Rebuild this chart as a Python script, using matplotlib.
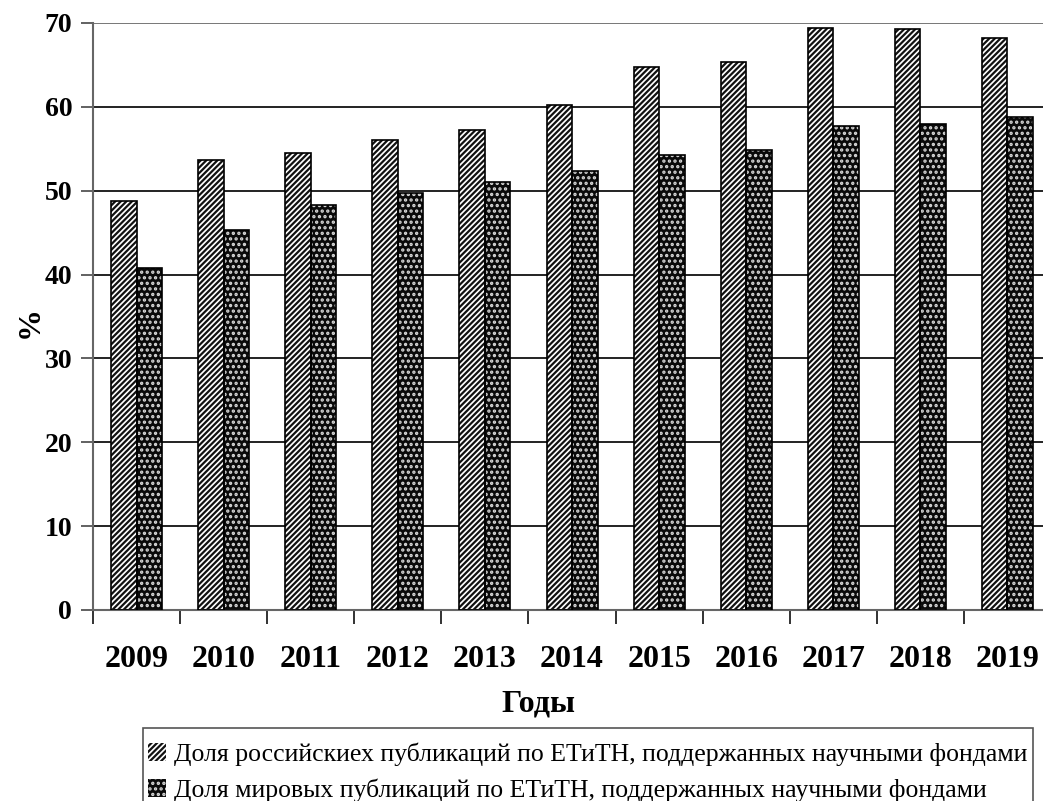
import matplotlib
matplotlib.use("Agg")
import matplotlib.pyplot as plt
from matplotlib.patches import Rectangle
import numpy as np

plt.rcParams['font.family'] = ['Liberation Serif', 'DejaVu Serif']
plt.rcParams['hatch.linewidth'] = 1.6

years = ['2009', '2010', '2011', '2012', '2013', '2014', '2015', '2016', '2017', '2018', '2019']
rus = [48.8, 53.7, 54.5, 56.1, 57.2, 60.2, 64.8, 65.4, 69.4, 69.3, 68.2]
world = [40.8, 45.3, 48.3, 49.7, 51.0, 52.4, 54.2, 54.8, 57.7, 57.9, 58.8]
lbl_rus = 'Доля российскиех публикаций по ЕТиТН, поддержанных научными фондами'
lbl_world = 'Доля мировых публикаций по ЕТиТН, поддержанных научными фондами'

fig = plt.figure(figsize=(10.43, 8.01), dpi=100)
ax = fig.add_axes([0.0892, 0.2385, 0.9185, 0.7328])

x = np.arange(len(years))
w = 0.293

for v in range(10, 71, 10):
    ax.axhline(v, color='#222222' if v < 70 else '#777777', lw=1.4, zorder=1)

b1 = ax.bar(x - w / 2, rus, w, color='white', edgecolor='#111111', hatch='//////',
            lw=0, label=lbl_rus, zorder=2)
b2 = ax.bar(x + w / 2, world, w, color='#0a0a0a', edgecolor='#d8d8d8', hatch='...',
            lw=0, label=lbl_world, zorder=2)
# outlines drawn separately so the hatch colour doesn't affect the border
ax.bar(x - w / 2, rus, w, fill=False, edgecolor='black', lw=1.2, zorder=3)
ax.bar(x + w / 2, world, w, fill=False, edgecolor='black', lw=1.2, zorder=3)

ax.set_xlim(-0.5, len(years) - 0.5)
ax.set_ylim(0, 70)
ax.set_yticks(range(0, 71, 10))
ax.tick_params(axis='y', labelsize=20, length=9, width=1.3, color='#555555', pad=6)
ax.set_xticks(np.arange(len(years) + 1) - 0.5, minor=False)
ax.set_xticklabels([])
ax.set_xticks(x, minor=True)
ax.set_xticklabels(years, minor=True)
ax.tick_params(axis='x', which='major', length=10, width=1.3, color='#222222')
ax.tick_params(axis='x', which='minor', length=0, labelsize=23, pad=25)
for t in ax.get_yticklabels() + ax.get_xticklabels(minor=True):
    t.set_fontweight('bold')

for s in ['top', 'right']:
    ax.spines[s].set_visible(False)
ax.spines['left'].set_color('#666666')
ax.spines['left'].set_linewidth(1.5)
ax.spines['bottom'].set_color('#666666')
ax.spines['bottom'].set_linewidth(1.5)

ax.set_ylabel('%', fontsize=23, fontweight='bold')
ax.yaxis.set_label_coords(-0.05, 0.49)
fig.text(0.516, 0.121, 'Годы', fontsize=23, fontweight='bold', ha='center', va='center')

# legend box runs off the bottom edge, so the frame is a separate rectangle
fig.patches.append(Rectangle((0.1371, -0.02), 0.853, 0.111, transform=fig.transFigure,
                             fill=False, edgecolor='#555555', lw=1.2))
leg = fig.legend(handles=[b1, b2], loc='upper left', bbox_to_anchor=(0.137, 0.080),
                 fontsize=18.5, frameon=False, handlelength=0.7,
                 handleheight=0.7, handletextpad=0.3, labelspacing=0.5,
                 borderpad=0.2, borderaxespad=0)

fig.savefig('out.png', dpi=100)
